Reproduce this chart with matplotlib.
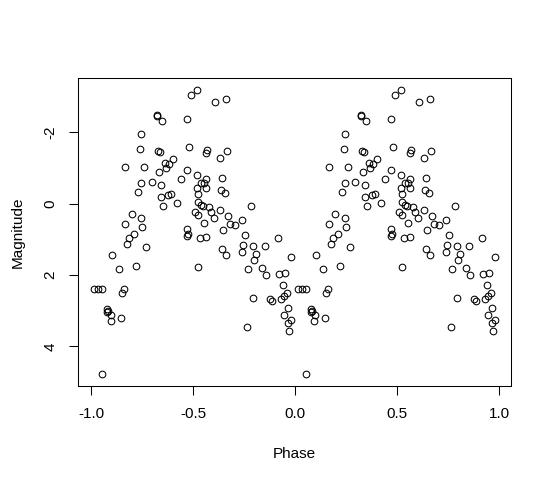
import numpy as np
import matplotlib
matplotlib.use("Agg")
import matplotlib.pyplot as plt

plt.rcParams['font.family'] = ['Liberation Sans', 'DejaVu Sans']

# folded light curve: phase in [0,1), plotted twice (phase-1 and phase)
phase = np.array([
    0.320, 0.323, 0.348, 0.468, 0.245, 0.240, 0.328, 0.338, 0.479, 0.167,
    0.260, 0.363, 0.383, 0.402, 0.368, 0.333, 0.469, 0.441, 0.245, 0.295,
    0.343, 0.230, 0.343, 0.375, 0.393, 0.353, 0.421, 0.197, 0.245, 0.167,
    0.250, 0.208, 0.185, 0.468, 0.468, 0.177, 0.270, 0.102, 0.137, 0.220,
    0.013, 0.034, 0.054, 0.162, 0.152, 0.079, 0.076, 0.082, 0.097, 0.094,
    0.147, 0.054, 0.488, 0.519, 0.608, 0.662, 0.569, 0.564, 0.667, 0.632,
    0.519, 0.564, 0.536, 0.554, 0.639, 0.519, 0.564, 0.636, 0.657, 0.524,
    0.524, 0.538, 0.549, 0.579, 0.785, 0.506, 0.523, 0.589, 0.632, 0.603,
    0.672, 0.551, 0.682, 0.706, 0.740, 0.644, 0.755, 0.915, 0.476, 0.533,
    0.564, 0.642, 0.662, 0.745, 0.740, 0.791, 0.808, 0.799, 0.853, 0.981,
    0.524, 0.770, 0.838, 0.858, 0.921, 0.949, 0.941, 0.794, 0.878, 0.885,
    0.928, 0.944, 0.958, 0.966, 0.944, 0.979, 0.966, 0.971, 0.765,
])
mag = np.array([
    -2.49, -2.46, -2.31, -2.37, -1.95, -1.52, -1.47, -1.45, -1.58, -1.02,
    -1.04, -1.13, -1.11, -1.24, -0.99, -0.88, -0.94, -0.69, -0.57, -0.60,
    -0.52, -0.33, -0.19, -0.24, -0.27, 0.06, -0.02, 0.30, 0.40, 0.57,
    0.66, 0.85, 0.95, 0.71, 0.90, 1.13, 1.22, 1.44, 1.84, 1.75,
    2.40, 2.40, 2.38, 2.39, 2.51, 2.96, 3.04, 3.02, 3.12, 3.29,
    3.21, 4.78, -3.04, -3.18, -2.86, -2.93, -1.50, -1.42, -1.47, -1.27,
    -0.80, -0.69, -0.57, -0.59, -0.71, -0.44, -0.44, -0.39, -0.29, -0.27,
    -0.05, 0.04, 0.06, 0.09, 0.06, 0.23, 0.32, 0.24, 0.18, 0.40,
    0.35, 0.55, 0.57, 0.60, 0.47, 0.75, 0.89, 0.97, 0.85, 0.97,
    0.94, 1.28, 1.43, 1.17, 1.37, 1.20, 1.40, 1.57, 1.19, 1.51,
    1.78, 1.84, 1.81, 2.00, 1.97, 1.95, 2.29, 2.65, 2.68, 2.72,
    2.67, 2.59, 2.50, 2.94, 3.11, 3.27, 3.36, 3.58, 3.47,
])

x = np.concatenate([phase - 1, phase])
y = np.concatenate([mag, mag])

fig = plt.figure(figsize=(5.52, 4.84), dpi=100)
ax = fig.add_axes([0.1418, 0.2025, 0.7845, 0.6363])

ax.plot(x, y, 'o', mfc='none', mec='black', ms=4.8, mew=0.75, ls='none')

ax.set_xlim(-1.064, 1.059)
ax.set_ylim(5.113, -3.522)
ax.set_xticks([-1.0, -0.5, 0.0, 0.5, 1.0])
ax.set_xticklabels(['-1.0', '-0.5', '0.0', '0.5', '1.0'])
ax.set_yticks([-2, 0, 2, 4])
ax.set_yticklabels(['-2', '0', '2', '4'], rotation=90, va='center')

for s in ax.spines.values():
    s.set_linewidth(0.75)

ax.tick_params(axis='both', direction='out', length=6.8, width=0.75,
               labelsize=11, color='black')
ax.tick_params(axis='x', pad=8)
ax.tick_params(axis='y', pad=8)

ax.set_xlabel('Phase', fontsize=11, labelpad=19)
ax.set_ylabel('Magnitude', fontsize=11, labelpad=14)

fig.savefig('out.png', dpi=100)
